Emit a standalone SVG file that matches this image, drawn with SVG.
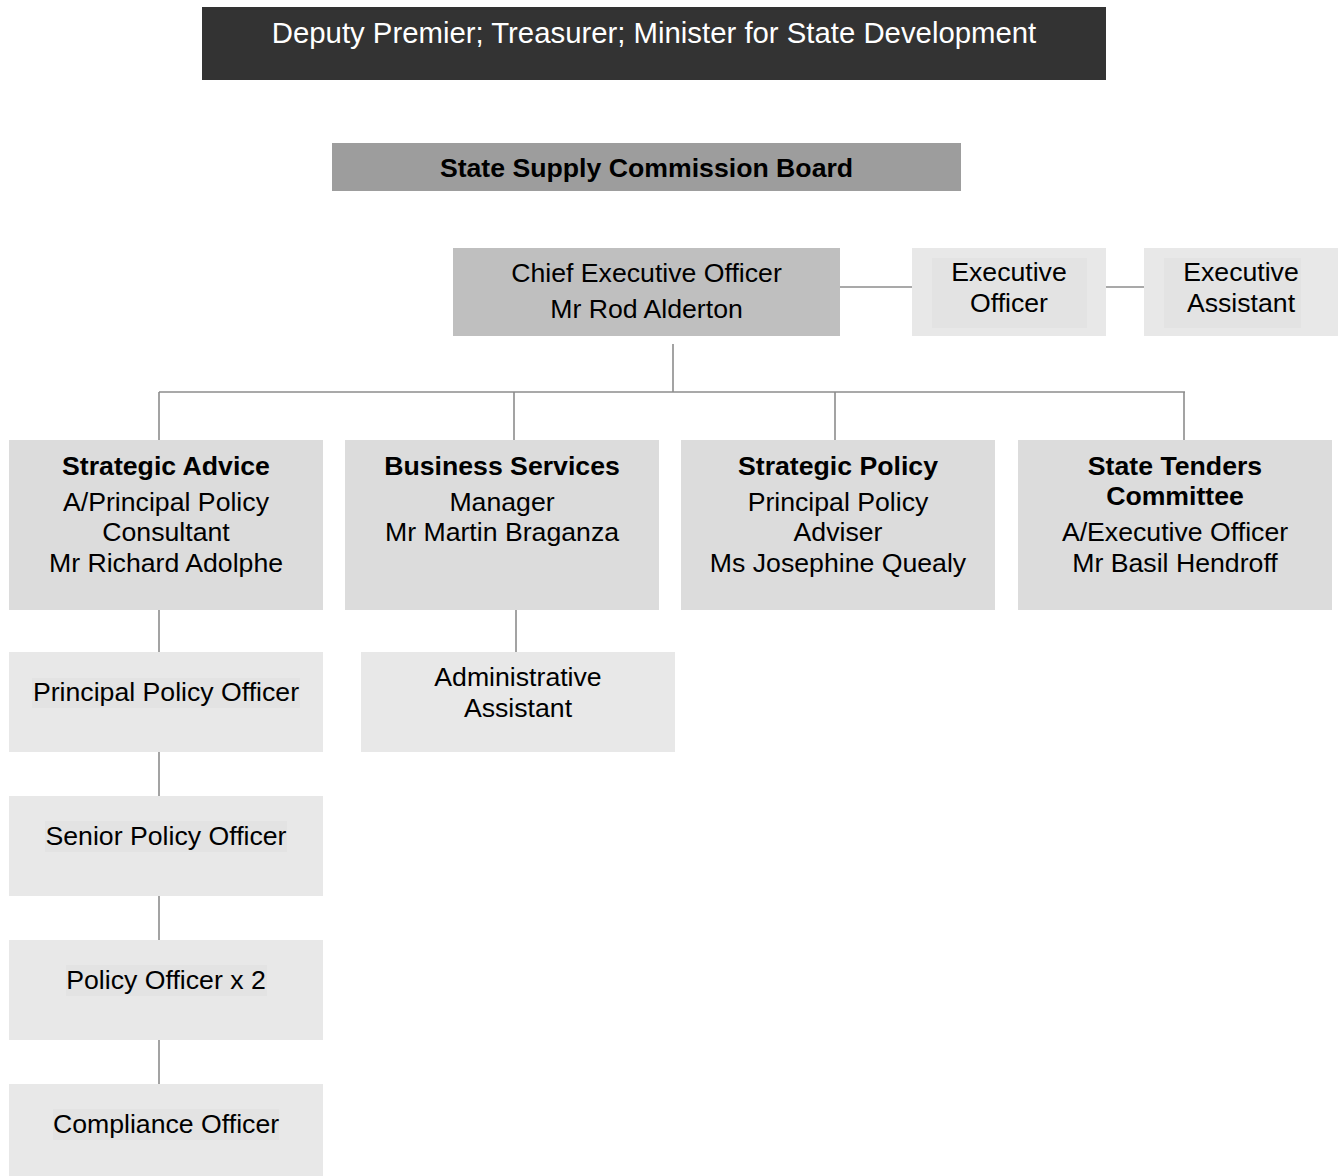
<svg xmlns="http://www.w3.org/2000/svg" width="1343" height="1176" viewBox="0 0 1343 1176">
<style>
text{font-family:"Liberation Sans",Arial,sans-serif;font-size:26.67px;fill:#000;text-anchor:middle}
.b{font-weight:bold}
.t{fill:#fff;font-size:29.33px}
.dept{fill:#dcdcdc}
.sub{fill:#e8e8e8}
.hl{fill:#e3e3e3}
.c{stroke:#8c8c8c;stroke-width:1.6;fill:none}
</style>
<rect width="1343" height="1176" fill="#fff"/>
<g id="connectors" class="c">
<line x1="840" y1="287" x2="912" y2="287"/>
<line x1="1106" y1="287" x2="1144" y2="287"/>
<line x1="673" y1="344" x2="673" y2="392"/>
<line x1="159" y1="392" x2="1185" y2="392"/>
<line x1="159" y1="392" x2="159" y2="440"/>
<line x1="514" y1="392" x2="514" y2="440"/>
<line x1="835" y1="392" x2="835" y2="440"/>
<line x1="1184" y1="392" x2="1184" y2="440"/>
<line x1="159" y1="610" x2="159" y2="652"/>
<line x1="516" y1="610" x2="516" y2="652"/>
<line x1="159" y1="752" x2="159" y2="796"/>
<line x1="159" y1="896" x2="159" y2="940"/>
<line x1="159" y1="1040" x2="159" y2="1084"/>
</g>
<g id="minister">
<rect x="202" y="7" width="904" height="73" fill="#333333"/>
<text class="t" x="654" y="43">Deputy Premier; Treasurer; Minister for State Development</text>
</g>
<g id="board">
<rect x="332" y="143" width="629" height="48" fill="#9d9d9d"/>
<text class="b" x="646.5" y="177">State Supply Commission Board</text>
</g>
<g id="ceo">
<rect x="453" y="248" width="387" height="88" fill="#bfbfbf"/>
<text x="646.5" y="282">Chief Executive Officer</text>
<text x="646.5" y="318">Mr Rod Alderton</text>
</g>
<g id="exec-officer">
<rect x="912" y="248" width="194" height="88" class="sub"/>
<rect x="932" y="258" width="155" height="70" class="hl"/>
<text x="1009" y="281">Executive</text>
<text x="1009" y="312">Officer</text>
</g>
<g id="exec-assistant">
<rect x="1144" y="248" width="194" height="88" class="sub"/>
<rect x="1164" y="258" width="137" height="70" class="hl"/>
<text x="1241" y="281">Executive</text>
<text x="1241" y="312">Assistant</text>
</g>
<g id="strategic-advice">
<rect x="9" y="440" width="314" height="170" class="dept"/>
<text class="b" x="166" y="475">Strategic Advice</text>
<text x="166" y="511">A/Principal Policy</text>
<text x="166" y="541">Consultant</text>
<text x="166" y="572">Mr Richard Adolphe</text>
</g>
<g id="business-services">
<rect x="345" y="440" width="314" height="170" class="dept"/>
<text class="b" x="502" y="475">Business Services</text>
<text x="502" y="511">Manager</text>
<text x="502" y="541">Mr Martin Braganza</text>
</g>
<g id="strategic-policy">
<rect x="681" y="440" width="314" height="170" class="dept"/>
<text class="b" x="838" y="475">Strategic Policy</text>
<text x="838" y="511">Principal Policy</text>
<text x="838" y="541">Adviser</text>
<text x="838" y="572">Ms Josephine Quealy</text>
</g>
<g id="state-tenders">
<rect x="1018" y="440" width="314" height="170" class="dept"/>
<text class="b" x="1175" y="475">State Tenders</text>
<text class="b" x="1175" y="505">Committee</text>
<text x="1175" y="541">A/Executive Officer</text>
<text x="1175" y="572">Mr Basil Hendroff</text>
</g>
<g id="principal-policy-officer">
<rect x="9" y="652" width="314" height="100" class="sub"/>
<rect x="32" y="678" width="268" height="30" class="hl"/>
<text x="166" y="701">Principal Policy Officer</text>
</g>
<g id="administrative-assistant">
<rect x="361" y="652" width="314" height="100" class="sub"/>
<text x="518" y="686">Administrative</text>
<text x="518" y="717">Assistant</text>
</g>
<g id="senior-policy-officer">
<rect x="9" y="796" width="314" height="100" class="sub"/>
<rect x="45" y="821" width="242" height="31" class="hl"/>
<text x="166" y="845">Senior Policy Officer</text>
</g>
<g id="policy-officer">
<rect x="9" y="940" width="314" height="100" class="sub"/>
<rect x="66" y="965" width="201" height="31" class="hl"/>
<text x="166" y="989">Policy Officer x 2</text>
</g>
<g id="compliance-officer">
<rect x="9" y="1084" width="314" height="92" class="sub"/>
<rect x="53" y="1109" width="226" height="31" class="hl"/>
<text x="166" y="1133">Compliance Officer</text>
</g>
</svg>
